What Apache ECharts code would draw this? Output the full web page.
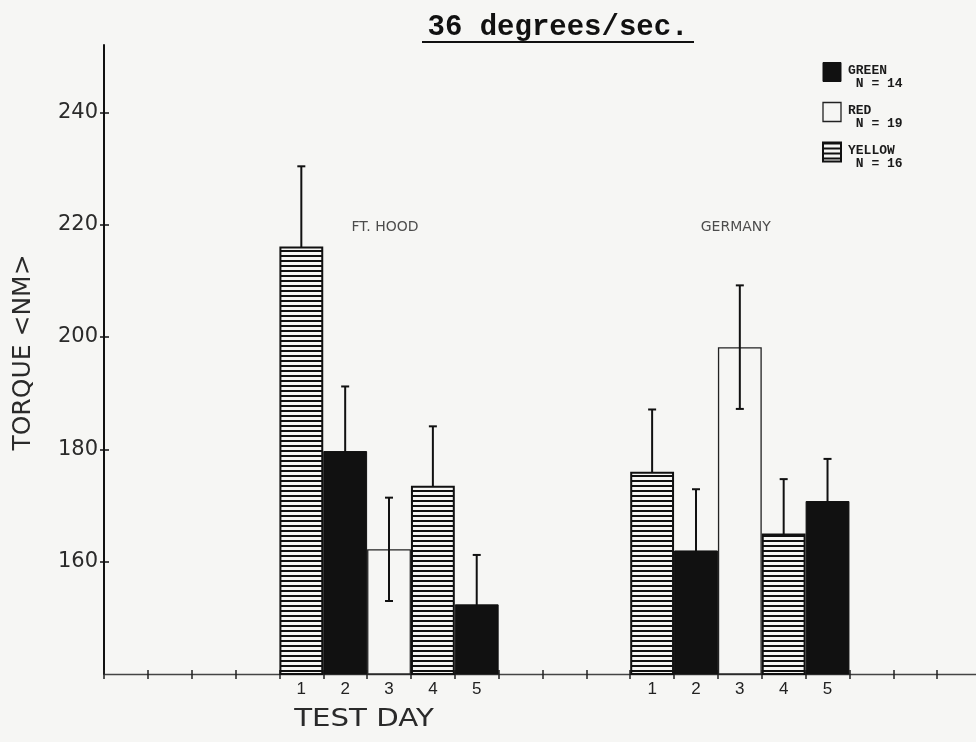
<!DOCTYPE html>
<html>
<head>
<meta charset="utf-8">
<script src="https://cdn.jsdelivr.net/npm/echarts@6/dist/echarts.min.js"></script>
<style>
  html, body { margin: 0; padding: 0; background: #f6f6f4; }
  #chart { width: 976px; height: 742px; }
</style>
</head>
<body>
<div id="chart"></div>
<script>
// Isokinetic torque at 36 degrees/sec, mean ± SD per test day and team
const sites = ['FT. HOOD', 'GERMANY'];
const days = ['1', '2', '3', '4', '5'];
const teams = ['GREEN', 'RED', 'YELLOW'];
const teamN = [14, 19, 16];

const ftHoodTeam = ['YELLOW', 'GREEN', 'RED', 'YELLOW', 'GREEN'];
const ftHoodMean = [216.1, 179.7, 162.2, 173.5, 152.4];
const ftHoodSD = [14.3, 11.5, 9.2, 10.6, 8.8];

const germanyTeam = ['YELLOW', 'GREEN', 'RED', 'YELLOW', 'GREEN'];
const germanyMean = [176.0, 162.0, 198.2, 165.0, 170.8];
const germanySD = [11.1, 10.9, 11.0, 9.7, 7.5];

const yTicks = [160, 180, 200, 220, 240];
const yMin = 140, yMax = 252;

// empty day slots on the axis before each site and after the last one
const blanksBefore = [4, 3];
const blanksAfter = 3;
const siteLabelLevel = 219.5;

// ---- build the category axis (one slot per test day) ----
const categories = [];
const siteSlots = [];
let spacer = 0;
sites.forEach((site, s) => {
  for (let i = 0; i < blanksBefore[s]; i++) categories.push('sp' + (spacer++));
  const idx = [];
  days.forEach(d => { idx.push(categories.length); categories.push(site + '|' + d); });
  siteSlots.push(idx);
});
for (let i = 0; i < blanksAfter; i++) categories.push('sp' + (spacer++));

const siteTeam = [ftHoodTeam, germanyTeam];
const siteMean = [ftHoodMean, germanyMean];
const siteSD = [ftHoodSD, germanySD];

function teamData(team) {
  const arr = categories.map(() => '-');
  sites.forEach((_, s) => {
    siteSlots[s].forEach((slot, k) => {
      if (siteTeam[s][k] === team) arr[slot] = siteMean[s][k];
    });
  });
  return arr;
}

const errorData = [];
sites.forEach((_, s) => {
  siteSlots[s].forEach((slot, k) => {
    errorData.push([slot, siteMean[s][k], siteSD[s][k]]);
  });
});

// horizontal line hatching for the YELLOW team
const paper = '#f6f6f4';
const ink = '#111';
const hatch = document.createElement('canvas');
hatch.width = 8; hatch.height = 5;
const hctx = hatch.getContext('2d');
hctx.fillStyle = paper; hctx.fillRect(0, 0, 8, 5);
hctx.fillStyle = ink; hctx.fillRect(0, 0, 8, 2);
const hatchFill = { image: hatch, repeat: 'repeat' };

const teamStyle = {
  GREEN: { color: ink, borderColor: ink, borderWidth: 1 },
  RED: { color: paper, borderColor: '#222', borderWidth: 1.3 },
  YELLOW: { color: hatchFill, borderColor: ink, borderWidth: 2 }
};
const teamZ = { GREEN: 4, RED: 2, YELLOW: 4 };

const plotterFont = 'DejaVu Sans';

const chart = echarts.init(document.getElementById('chart'));

const barSeries = teams.map(team => ({
  name: team,
  type: 'bar',
  xAxisIndex: 0,
  yAxisIndex: 0,
  data: teamData(team),
  barWidth: '100%',
  barGap: '-100%',
  barCategoryGap: '0%',
  z: teamZ[team],
  itemStyle: teamStyle[team],
  emphasis: { disabled: true }
}));

const legendText = {
  fontFamily: 'Liberation Mono',
  fontWeight: 'bold',
  fontSize: 13,
  lineHeight: 13,
  color: '#1a1a1a'
};

const option = {
  backgroundColor: paper,
  animation: false,
  grid: { left: 104, right: -5, top: 45, bottom: 68, outerBoundsMode: 'none' },
  legend: {
    orient: 'vertical',
    left: 817,
    top: 53,
    itemWidth: 18,
    itemHeight: 19,
    itemGap: 8,
    icon: 'rect',
    selectedMode: false,
    data: teams.map(t => ({ name: t, itemStyle: teamStyle[t] })),
    formatter: name => '{s| }\n{t|' + name + '}\n{t| N = ' + teamN[teams.indexOf(name)] + '}',
    textStyle: {
      padding: [0, 0, 0, 2],
      rich: {
        s: { fontSize: 2, lineHeight: 10 },
        t: legendText
      }
    }
  },
  xAxis: [
    {
      type: 'category',
      data: categories,
      boundaryGap: true,
      axisLine: { show: true, lineStyle: { color: '#444', width: 1.3 } },
      axisTick: { show: true, interval: 0, length: 5, lineStyle: { color: '#222', width: 1.5 } },
      axisLabel: {
        interval: 0,
        margin: 7,
        fontFamily: 'Liberation Sans',
        fontSize: 17,
        color: '#222',
        formatter: v => v.indexOf('|') >= 0 ? v.split('|')[1] : ''
      },
      splitLine: { show: false }
    },
    {
      type: 'category',
      data: categories,
      position: 'bottom',
      boundaryGap: true,
      axisLine: { show: false },
      axisTick: { show: true, inside: true, interval: 0, length: 4, lineStyle: { color: '#222', width: 1.5 } },
      axisLabel: { show: false },
      splitLine: { show: false }
    }
  ],
  yAxis: [
    {
      type: 'value',
      min: yMin,
      max: yMax,
      interval: 20,
      position: 'left',
      name: 'TORQUE <NM>',
      nameLocation: 'middle',
      nameRotate: 90,
      nameGap: 68,
      nameTextStyle: { fontFamily: plotterFont, fontSize: 25, color: '#2a2a2a', padding: [0, 0, 0, 14] },
      axisLine: { show: true, lineStyle: { color: ink, width: 2 } },
      axisTick: { show: true, length: 4, customValues: yTicks, lineStyle: { color: ink, width: 1.5 } },
      axisLabel: {
        customValues: yTicks,
        margin: 6,
        fontFamily: plotterFont,
        fontSize: 21,
        color: '#2a2a2a'
      },
      splitLine: { show: false }
    },
    {
      type: 'value',
      min: yMin,
      max: yMax,
      interval: 20,
      position: 'left',
      axisLine: { show: false },
      axisTick: { show: true, inside: true, length: 5, customValues: yTicks, lineStyle: { color: ink, width: 1.5 } },
      axisLabel: { show: false },
      splitLine: { show: false }
    }
  ],
  series: [
    ...barSeries,
    {
      // ±1 SD whiskers; filled bars cover the lower half
      type: 'custom',
      name: 'sd',
      xAxisIndex: 0,
      yAxisIndex: 0,
      z: 3,
      data: errorData,
      encode: { x: 0, y: [1] },
      renderItem: (params, api) => {
        const slot = api.value(0), mean = api.value(1), sd = api.value(2);
        const top = api.coord([slot, mean + sd]);
        const bot = api.coord([slot, mean - sd]);
        const cap = 4;
        const st = { stroke: ink, lineWidth: 2 };
        return {
          type: 'group',
          children: [
            { type: 'line', shape: { x1: top[0], y1: top[1], x2: bot[0], y2: bot[1] }, style: st },
            { type: 'line', shape: { x1: top[0] - cap, y1: top[1], x2: top[0] + cap, y2: top[1] }, style: st },
            { type: 'line', shape: { x1: bot[0] - cap, y1: bot[1], x2: bot[0] + cap, y2: bot[1] }, style: st }
          ]
        };
      }
    },
    {
      // site names above each group of days
      type: 'scatter',
      name: 'site',
      xAxisIndex: 0,
      yAxisIndex: 0,
      symbolSize: 0,
      silent: true,
      data: sites.map((site, s) => ({ name: site, value: [siteSlots[s][2], siteLabelLevel] })),
      label: {
        show: true,
        position: 'inside',
        offset: [-4, 0],
        formatter: p => p.name,
        fontFamily: plotterFont,
        fontSize: 14,
        color: '#222'
      }
    }
  ],
  graphic: [
    {
      type: 'text',
      x: 558, y: 28,
      style: {
        text: '36 degrees/sec.',
        font: 'bold 29px "Liberation Mono"',
        fill: '#111',
        textAlign: 'center',
        textVerticalAlign: 'middle'
      }
    },
    {
      type: 'line',
      shape: { x1: 422, y1: 42, x2: 694, y2: 42 },
      style: { stroke: '#111', lineWidth: 2 }
    },
    {
      type: 'text',
      x: 364, y: 719,
      scaleX: 1.17,
      style: {
        text: 'TEST DAY',
        font: '25px "DejaVu Sans"',
        fill: '#2a2a2a',
        textAlign: 'center',
        textVerticalAlign: 'middle'
      }
    }
  ]
};

chart.setOption(option);
</script>
</body>
</html>
